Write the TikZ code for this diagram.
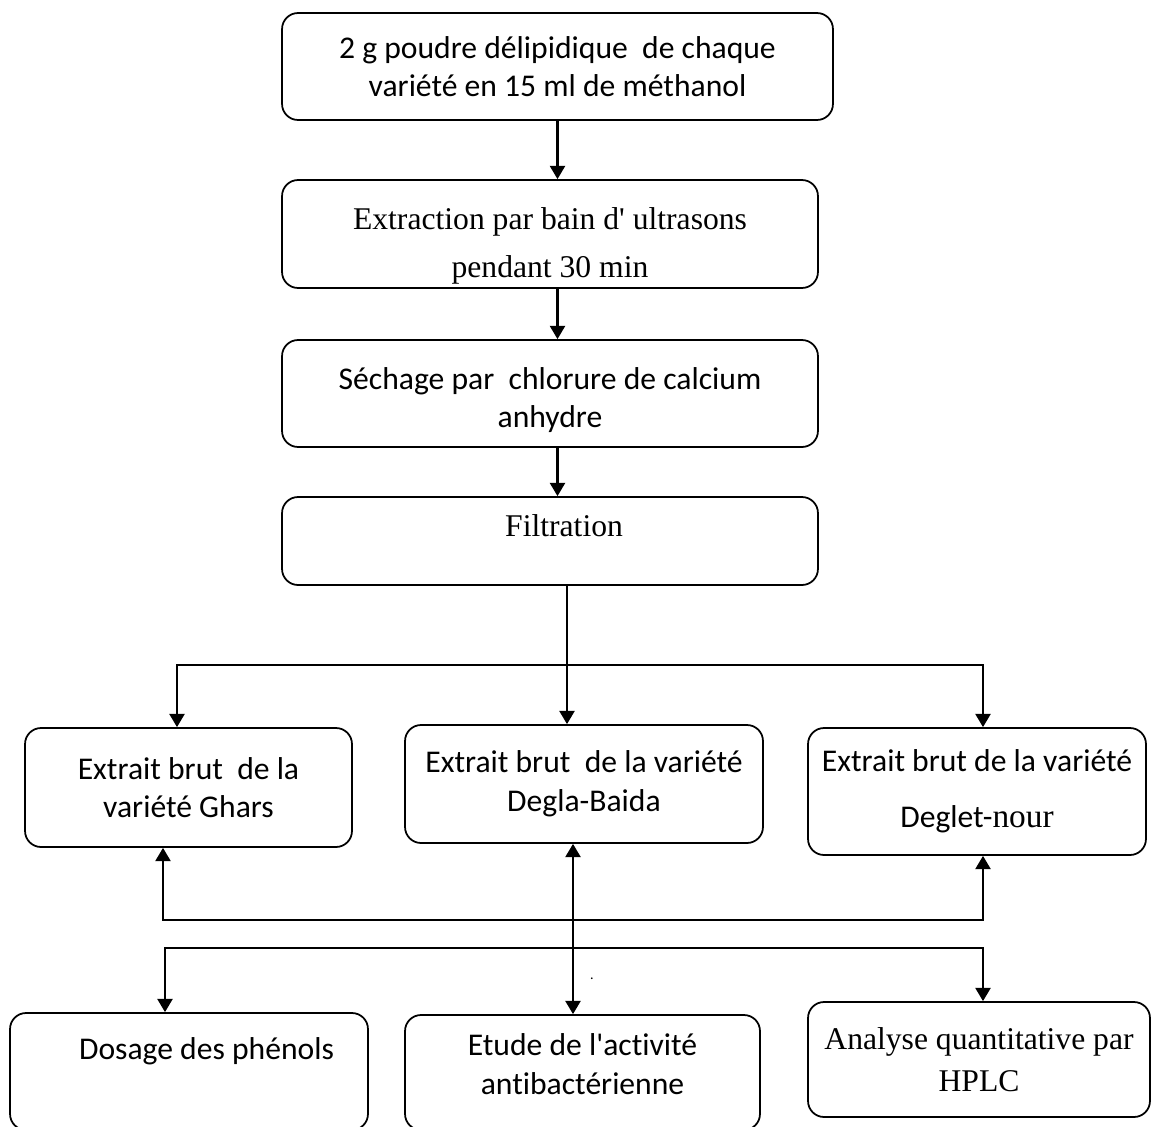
\documentclass[tikz,border=0pt]{standalone}
\usepackage{fontspec}
\setmainfont{Carlito}[Ligatures={NoCommon}]
\newfontfamily\serifface{Liberation Serif}
\usetikzlibrary{arrows.meta}

\begin{document}
\begin{tikzpicture}[x=0.02cm,y=-0.02cm,>={Triangle[width=8.5pt,length=7.5pt]}]
    \tikzstyle{box}=[draw,line width=1pt,rounded corners=0.32cm,align=center,inner sep=0pt,font=\fontsize{18}{22}\selectfont]
    \tikzstyle{tbox}=[box,font=\fontsize{18}{27}\serifface]
    \tikzstyle{link}=[line width=1.3pt]
    \useasboundingbox (0,0) rectangle (1166,1126);
    \node[box,minimum width=11.02cm,minimum height=2.14cm] (s_1) at (557.5,66.5) {2 g poudre délipidique\ \ de chaque\\variété en 15 ml de méthanol};
    \node[tbox,minimum width=10.72cm,minimum height=2.16cm,text height=53pt] (s_2) at (550,234) {Extraction par bain d\textquotesingle{} ultrasons\\pendant 30 min};
    \node[box,minimum width=10.72cm,minimum height=2.14cm,text height=42pt] (s_3) at (550,393.5) {Séchage par\ \ chlorure de calcium\\anhydre};
    \node[tbox,minimum width=10.72cm,minimum height=1.76cm,text depth=18pt] (s_4) at (550,541) {\hspace*{16pt}Filtration};
    \node[box,minimum width=6.54cm,minimum height=2.38cm] (e_1) at (188.5,787.5) {Extrait brut\ \ de la\\variété Ghars};
    \node[box,minimum width=7.16cm,minimum height=2.36cm] (e_2) at (584,784) {Extrait brut\ \ de la variété\\Degla-Baida};
    \node[box,minimum width=6.76cm,minimum height=2.54cm] (e_3) at (977,791.5) {Extrait brut de la variété\\[10pt]Deglet-{\serifface\fontsize{19}{22}\selectfont nour}};
    \node[box,minimum width=7.16cm,minimum height=2.34cm,text depth=26pt] (a_1) at (189,1071.5) {\hspace*{20pt}Dosage des phénols};
    \node[box,minimum width=7.10cm,minimum height=2.30cm,text height=25pt] (a_2) at (582.5,1072.5) {Etude de l\textquotesingle{}activité\\antibactérienne};
    \node[tbox,minimum width=6.84cm,minimum height=2.30cm,font=\fontsize{18}{24}\serifface] (a_3) at (979,1059.5) {Analyse quantitative par\\HPLC};
    \node[inner sep=0pt,font=\fontsize{8}{8}\selectfont] (dot) at (592,979) {.};
    \coordinate (f_0) at (567,665);
    \coordinate (f_1) at (177,665);
    \coordinate (f_3) at (983,665);
    \coordinate (g_1) at (163,920);
    \coordinate (g_3) at (983,920);
    \coordinate (h_1) at (165,948);
    \coordinate (h_3) at (983,948);
    \coordinate (m_0) at (573,900);
    \draw[link,->] (s_1.south) -- (s_1.south |- s_2.north);
    \draw[link,->] (s_2.south -| s_1.south) -- (s_3.north -| s_1.south);
    \draw[link,->] (s_3.south -| s_1.south) -- (s_4.north -| s_1.south);
    \draw[link,->] (s_4.south -| f_0) -- (e_2.north -| f_0);
    \draw[link,<->] (f_1 |- e_1.north) -- (f_1) -- (f_3) -- (f_3 |- e_3.north);
    \draw[link,<->] (g_1 |- e_1.south) -- (g_1) -- (g_3) -- (g_3 |- e_3.south);
    \draw[link,<->] (e_2.south -| m_0) -- (a_2.north -| m_0);
    \draw[link,<->] (h_1 |- a_1.north) -- (h_1) -- (h_3) -- (h_3 |- a_3.north);
\end{tikzpicture}
\end{document}
